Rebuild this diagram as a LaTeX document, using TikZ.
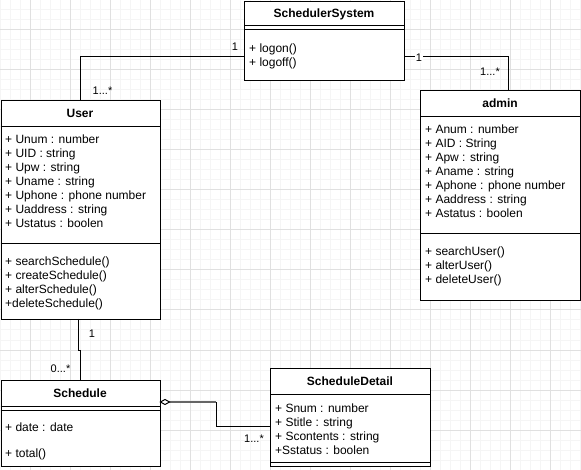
\documentclass[tikz,border=0pt]{standalone}
\usepackage{fontspec}
\setmainfont{Liberation Sans}
\begin{document}
\begin{tikzpicture}[x=1pt,y=-1pt,
  minor/.style={draw=black!4, line width=1pt},
  major/.style={draw=black!12, line width=1pt},
  cls/.style={draw, fill=white, line width=1pt, inner sep=0pt, anchor=north west},
  sep/.style={line width=1pt},
  hdr/.style={inner sep=0pt, font=\fontsize{12}{14}\selectfont\bfseries, text height=8.6pt, text depth=0pt},
  txt/.style={anchor=west, inner sep=0pt, font=\fontsize{12}{14}\selectfont, text height=8.6pt, text depth=0pt},
  lbl/.style={inner sep=0pt, font=\fontsize{11}{13}\selectfont, text height=7.9pt, text depth=0pt},
  conn/.style={line width=1pt}
]
\useasboundingbox (0,0) rectangle (581,470);
\fill[white] (0,0) rectangle (581,470);
% grid
\foreach \x in {0,10,...,580} \draw[minor] (\x,0) -- (\x,470);
\foreach \y in {0,10,...,470} \draw[minor] (0,\y) -- (581,\y);
\foreach \x in {30,70,...,570} \draw[major] (\x,0) -- (\x,470);
\foreach \y in {30,70,...,470} \draw[major] (0,\y) -- (581,\y);

% connector end points
\coordinate (ssL) at (244,57);
\coordinate (ssR) at (404,57);
\coordinate (admT) at (508,90);
\coordinate (userB) at (78,319);
\coordinate (schR) at (169,402);
\coordinate (sdL) at (270,426);

% SchedulerSystem
\node[cls, minimum width=160pt, minimum height=79pt] (ss) at (244,1) {};
\draw[sep] (244,26) -- (404,26) (244,30) -- (404,30);
\node[hdr] (ssh) at (324,13.5) {SchedulerSystem};
\node[txt] (ss1) at (249,48) {+ logon()};
\node[txt] (ss2) at (249,62) {+ logoff()};

% User
\node[cls, minimum width=159.5pt, minimum height=219pt] (user) at (0.5,100) {};
\draw[sep] (0.5,127) -- (160,127) (0.5,244) -- (160,244);
\node[hdr] (userh) at (80,113.5) {User};
\node[txt] (u1) at (5,139) {+ Unum : number};
\node[txt] (u2) at (5,153) {+ UID : string};
\node[txt] (u3) at (5,167) {+ Upw : string};
\node[txt] (u4) at (5,181) {+ Uname : string};
\node[txt] (u5) at (5,195) {+ Uphone : phone number};
\node[txt] (u6) at (5,209) {+ Uaddress : string};
\node[txt] (u7) at (5,223) {+ Ustatus : boolen};
\node[txt] (u8) at (5,261) {+ searchSchedule()};
\node[txt] (u9) at (5,275) {+ createSchedule()};
\node[txt] (u10) at (5,289) {+ alterSchedule()};
\node[txt] (u11) at (5,303) {+deleteSchedule()};

% admin
\node[cls, minimum width=160pt, minimum height=210pt] (admin) at (420,90) {};
\draw[sep] (420,117) -- (580,117) (420,234) -- (580,234);
\node[hdr] (adminh) at (500,103.5) {admin};
\node[txt] (a1) at (425,129) {+ Anum : number};
\node[txt] (a2) at (425,143) {+ AID : String};
\node[txt] (a3) at (425,157) {+ Apw : string};
\node[txt] (a4) at (425,171) {+ Aname : string};
\node[txt] (a5) at (425,185) {+ Aphone : phone number};
\node[txt] (a6) at (425,199) {+ Aaddress : string};
\node[txt] (a7) at (425,213) {+ Astatus : boolen};
\node[txt] (a8) at (425,251) {+ searchUser()};
\node[txt] (a9) at (425,265) {+ alterUser()};
\node[txt] (a10) at (425,279) {+ deleteUser()};

% Schedule
\node[cls, minimum width=159.5pt, minimum height=86pt] (sched) at (0.5,380) {};
\draw[sep] (0.5,406) -- (160,406) (0.5,410) -- (160,410);
\node[hdr] (schedh) at (80,393.5) {Schedule};
\node[txt] (s1) at (5,427) {+ date : date};
\node[txt] (s2) at (5,453) {+ total()};

% ScheduleDetail
\node[cls, minimum width=160pt, minimum height=98pt] (sd) at (270,368) {};
\draw[sep] (270,394) -- (430,394) (270,462) -- (430,462);
\node[hdr] (sdh) at (350,381.5) {ScheduleDetail};
\node[txt] (d1) at (275,408) {+ Snum : number};
\node[txt] (d2) at (275,422) {+ Stitle : string};
\node[txt] (d3) at (275,436) {+ Scontents : string};
\node[txt] (d4) at (275,450) {+Sstatus : boolen};

% edges
\draw[conn] (ssL) -| (user.north);
\draw[conn] (ssR) -| (admT);
\draw[conn] (userB) -- ++(0,31) -| (sched.north);
\draw[conn, draw=black!60, line width=1.4pt] (schR) -- (216,402);
\draw[conn] (216,402) |- (sdL);
\draw[line width=1pt, fill=white] (160.5,402) -- (165,399.5) -- (169.5,402) -- (165,404.5) -- cycle;

% labels
\node[lbl] (l1) at (235,47) {1};
\node[lbl] (l2) at (102.5,91) {1...*};
\node[lbl, fill=white, inner sep=1pt] (l3) at (419,58) {1};
\node[lbl] (l4) at (490,72) {1...*};
\node[lbl] (l5) at (92,334) {1};
\node[lbl] (l6) at (60.5,368.5) {0...*};
\node[lbl] (l7) at (254,439) {1...*};
\end{tikzpicture}
\end{document}
